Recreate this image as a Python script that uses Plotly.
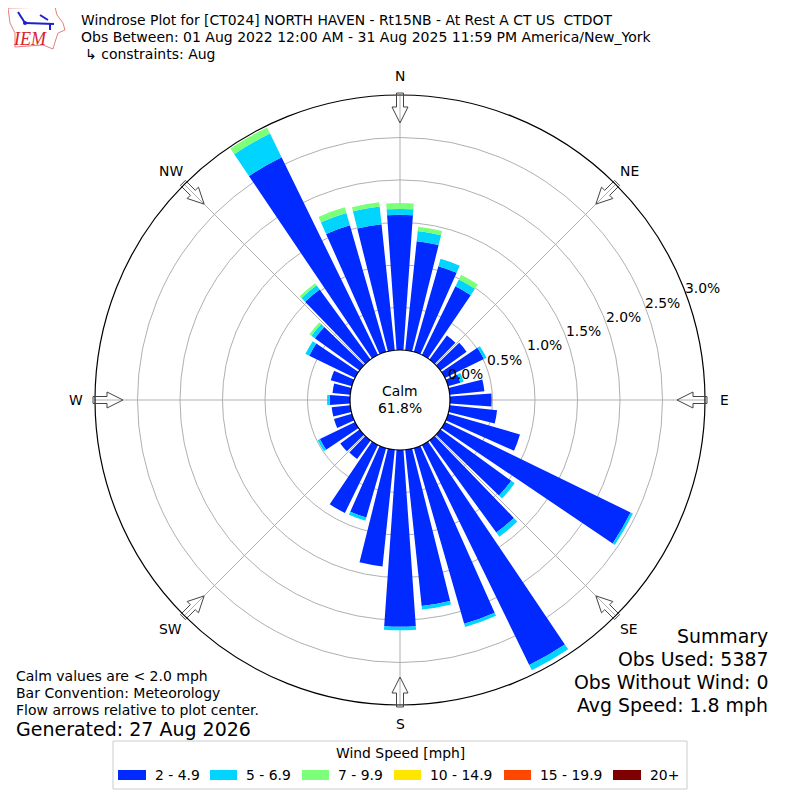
import math
import plotly.graph_objects as go

# Данные
directions = [d * 10 for d in range(36)]
speed_bins = ["2 - 4.9", "5 - 6.9", "7 - 9.9", "10 - 14.9", "15 - 19.9", "20+"]
bin_colors = ["#002aff", "#00d4ff", "#7cff79", "#ffe600", "#ff4700", "#7f0000"]

speed_2_5 = [1.59, 1.29, 1.05, 0.90, 0.35, 0.38, 0.51, 0.15, 0.41, 0.49, 0.56, 0.88,
             2.43, 1.03, 1.34, 2.88, 2.15, 1.85, 2.08, 1.38, 0.85, 0.89, 0.27, 0.28,
             0.46, 0.22, 0.22, 0.24, 0.21, 0.26, 0.60, 0.65, 1.02, 2.59, 1.55, 1.49]
speed_5_7 = [0.07, 0.12, 0.09, 0.09, 0.00, 0.00, 0.035, 0.04, 0.00, 0.00, 0.00, 0.00,
             0.03, 0.05, 0.06, 0.07, 0.04, 0.04, 0.04, 0.00, 0.04, 0.00, 0.00, 0.00,
             0.03, 0.00, 0.00, 0.03, 0.00, 0.00, 0.05, 0.05, 0.06, 0.31, 0.15, 0.21]
speed_7_10 = [0.07, 0.05, 0.00, 0.06, 0.00, 0.00, 0.00, 0.00, 0.00, 0.00, 0.00, 0.00,
              0.00, 0.00, 0.00, 0.00, 0.00, 0.00, 0.00, 0.00, 0.00, 0.00, 0.00, 0.00,
              0.00, 0.00, 0.00, 0.00, 0.00, 0.00, 0.00, 0.03, 0.03, 0.08, 0.07, 0.05]
speed_10_15 = [0.0] * 36
speed_15_20 = [0.0] * 36
speed_20_up = [0.0] * 36
bin_values = [speed_2_5, speed_5_7, speed_7_10, speed_10_15, speed_15_20, speed_20_up]

radial_ticks = [0.0, 0.5, 1.0, 1.5, 2.0, 2.5, 3.0]
radial_labels = ["0.0%", "0.5%", "1.0%", "1.5%", "2.0%", "2.5%", "3.0%"]
compass_angles = [0, 45, 90, 135, 180, 225, 270, 315]
compass_names = ["N", "NE", "E", "SE", "S", "SW", "W", "NW"]

FONT = "DejaVu Sans"
CX, CY, R_OUT, R_IN = 400, 400, 305, 50
# страница имеет поле 8px, поэтому фигура 784x784
MARGIN, SIZE = 8, 784


def px(x):
    return (x - MARGIN) / SIZE


def py(y):
    return 1 - (y - MARGIN) / SIZE


def path(points, close=True):
    s = "M " + " L ".join(f"{px(x):.5f},{py(y):.5f}" for x, y in points)
    return s + (" Z" if close else "")


def note(x, y, text, size, anchor="left", family=FONT, color="#000"):
    return dict(x=px(x), y=py(y), xref="paper", yref="paper", text=text, showarrow=False,
                xanchor=anchor, yanchor="middle", font=dict(family=family, size=size, color=color))


fig = go.Figure()

for name, color, values in zip(speed_bins, bin_colors, bin_values):
    fig.add_trace(go.Barpolar(
        r=values,
        theta=directions,
        width=8,
        name=name,
        marker=dict(color=color, line=dict(width=0)),
        showlegend=False,
    ))

# Стрелки направления потока
shapes = []
annotations = []
arrow = [(307, -3.5), (293, -3.5), (293, -8), (277, 0), (293, 8), (293, 3.5), (307, 3.5)]
for a, label in zip(compass_angles, compass_names):
    t = math.radians(a)
    pts = [(CX + r * math.sin(t) + w * math.cos(t), CY - r * math.cos(t) + w * math.sin(t))
           for r, w in arrow]
    shapes.append(dict(type="path", xref="paper", yref="paper", path=path(pts),
                       line=dict(color="#444", width=1)))
    annotations.append(note(CX + 324 * math.sin(t), CY - 324 * math.cos(t), label, 13.9, "center"))

# Подписи радиальной оси
for tick, label in zip(radial_ticks, radial_labels):
    annotations.append(note(465 + 79 * tick, 374 - 28.6 * tick, label, 13.9, "center"))

# Логотип IEM
iowa = [(8, 8), (55, 7), (57, 15), (63, 23), (65, 30), (58, 33), (55, 42), (53, 49), (43, 45), (15, 47), (15, 33), (10, 23)]
shapes.append(dict(type="path", xref="paper", yref="paper", path=path(iowa), line=dict(color="#e57f7f", width=1)))
for seg in ([(25, 23), (54, 24)], [(25, 23), (18, 12)], [(40, 15), (48, 20)], [(50, 24), (50, 30)]):
    shapes.append(dict(type="path", xref="paper", yref="paper", path=path(seg, False), line=dict(color="#1a22c8", width=2)))
shapes.append(dict(type="circle", xref="paper", yref="paper", x0=px(23), x1=px(27), y0=py(25), y1=py(21),
                   fillcolor="#1a22c8", line=dict(width=0)))

# Легенда
legend_swatches = [(118, 146), (210, 237), (302, 329), (394, 421), (504, 531), (613, 641)]
shapes.append(dict(type="rect", xref="paper", yref="paper", x0=px(113), x1=px(687), y0=py(789), y1=py(741),
                   line=dict(color="#cccccc", width=1), fillcolor="white"))
annotations.append(note(400, 753, "Wind Speed [mph]", 13.9, "center"))
for (x0, x1), color, name in zip(legend_swatches, bin_colors, speed_bins):
    shapes.append(dict(type="rect", xref="paper", yref="paper", x0=px(x0), x1=px(x1), y0=py(780), y1=py(770),
                       fillcolor=color, line=dict(width=0)))
    annotations.append(note(x1 + 7, 775, name, 13.9))

annotations += [
    note(79, 20, "Windrose Plot for [CT024] NORTH HAVEN - Rt15NB - At Rest A CT US  CTDOT", 13.9),
    note(79, 37, "Obs Between: 01 Aug 2022 12:00 AM - 31 Aug 2025 11:59 PM America/New_York", 14),
    note(83, 54, "↳ constraints: Aug", 14),
    note(30, 39, "<i>IEM</i>", 18, "center", "Liberation Serif", "#d8232a"),
    note(14, 676, "Calm values are &lt; 2.0 mph", 14),
    note(14, 693, "Bar Convention: Meteorology", 14),
    note(14, 710, "Flow arrows relative to plot center.", 14),
    note(14, 729, "Generated: 27 Aug 2026", 19),
    note(770, 636, "Summary", 18.9, "right"),
    note(770, 659, "Obs Used: 5387", 18.9, "right"),
    note(770, 682, "Obs Without Wind: 0", 18.9, "right"),
    note(770, 705, "Avg Speed: 1.8 mph", 18.9, "right"),
    note(400, 391, "Calm", 13.9, "center"),
    note(400, 408, "61.8%", 13.9, "center"),
]

# Обновление макета
fig.update_layout(
    width=SIZE,
    height=SIZE,
    margin=dict(l=0, r=0, t=0, b=0),
    paper_bgcolor="white",
    font=dict(family=FONT, size=13.9, color="#000"),
    shapes=shapes,
    annotations=annotations,
    showlegend=False,
    polar=dict(
        domain=dict(x=[px(CX - R_OUT), px(CX + R_OUT)], y=[py(CY + R_OUT), py(CY - R_OUT)]),
        hole=R_IN / R_OUT,
        bgcolor="white",
        barmode="stack",
        radialaxis=dict(
            range=[0, 3],
            angle=20,
            tickvals=radial_ticks,
            showticklabels=False,
            showline=False,
            ticks="",
            gridcolor="#b0b0b0",
            gridwidth=1,
            layer="above traces",
        ),
        angularaxis=dict(
            direction="clockwise",
            rotation=90,
            thetaunit="degrees",
            tickvals=compass_angles,
            showticklabels=False,
            ticks="",
            linecolor="black",
            linewidth=1.2,
            gridcolor="#b0b0b0",
            gridwidth=1,
            layer="above traces",
        ),
    ),
)

fig.write_html("out.html")
